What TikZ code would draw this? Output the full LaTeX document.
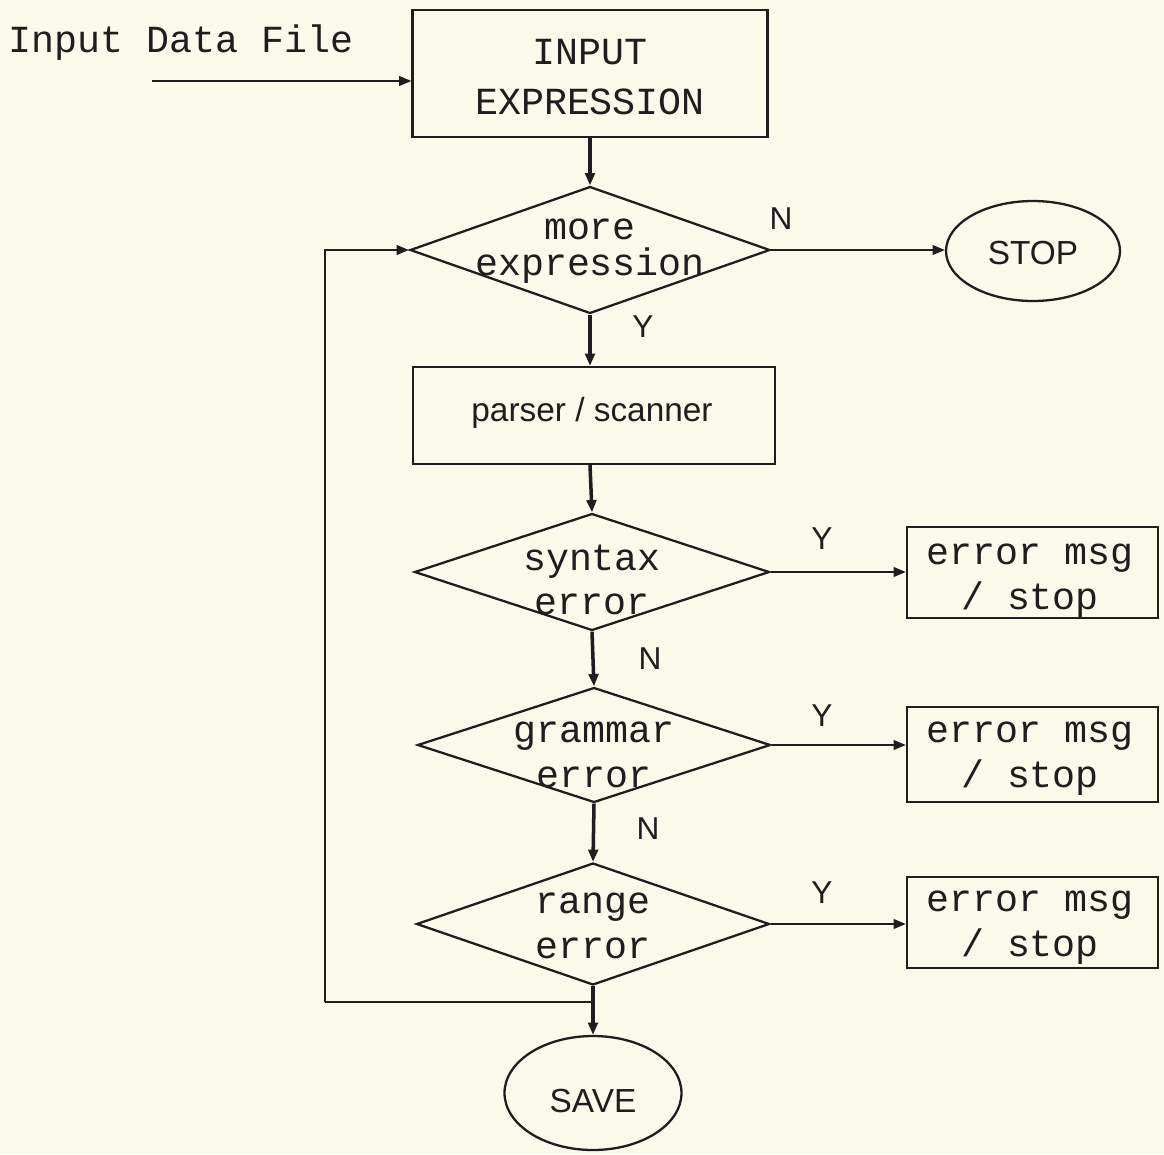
\documentclass[tikz,border=0pt]{standalone}
\usepackage{fontspec}
\setmainfont{Liberation Sans}
\newfontfamily\monof{Liberation Mono}
\usetikzlibrary{shapes.geometric,arrows.meta}
\definecolor{paper}{RGB}{250,249,234}
\definecolor{ink}{RGB}{30,30,30}
\tikzset{
  shp/.style={draw=ink, line width=1.3pt},
  boxnode/.style={shp, rectangle, inner sep=0pt},
  dianode/.style={shp, diamond, inner sep=0pt},
  ovalnode/.style={shp, ellipse, inner sep=0pt},
  mtext/.style={font=\monof\fontsize{21.8}{25.5}\selectfont, align=center, text=ink, inner sep=0pt},
  stext/.style={font=\fontsize{19}{23}\selectfont, align=center, text=ink, inner sep=0pt},
  yn/.style={font=\fontsize{18}{20}\selectfont, text=ink, inner sep=0pt},
  varr/.style={draw=ink, line width=2pt, -{Triangle[length=7pt,width=5.5pt]}},
  harr/.style={draw=ink, line width=1.1pt, -{Triangle[length=7pt,width=5.5pt]}},
  plain/.style={draw=ink, line width=1.3pt}
}
\begin{document}
\begin{tikzpicture}[x=0.02cm,y=-0.02cm]
\fill[paper] (0,0) rectangle (1164,1154);
\useasboundingbox (0,0) rectangle (1164,1154);

% nodes
\node[mtext] (lbl) at (181,43) {Input Data File};
\coordinate (inA) at (152,81);
\node[boxnode, minimum width=7.1cm, minimum height=2.54cm] (ib) at (590,73.5) {};
\node[mtext, font=\monof\fontsize{21.8}{28}\selectfont] (ibt) at (590,77) {INPUT\\EXPRESSION};

\node[dianode, minimum width=7.2cm, minimum height=2.54cm] (d1) at (590,250) {};
\node[mtext, font=\monof\fontsize{21.8}{20.5}\selectfont] (d1t) at (590,251) {more\\expression};

\node[ovalnode, minimum width=3.48cm, minimum height=2.0cm] (stop) at (1033,251) {};
\node[stext] (stopt) at (1033,253) {STOP};

\node[boxnode, minimum width=7.24cm, minimum height=1.94cm] (ps) at (594,415.5) {};
\node[stext] (pst) at (592,413) {parser / scanner};

\node[dianode, minimum width=7.1cm, minimum height=2.34cm] (d2) at (592,572) {};
\node[mtext] (d2t) at (592,580) {syntax\\error};

\node[dianode, minimum width=7.06cm, minimum height=2.3cm] (d3) at (594,745) {};
\node[mtext] (d3t) at (594,755) {grammar\\error};

\node[dianode, minimum width=7.06cm, minimum height=2.44cm] (d4) at (593,924) {};
\node[mtext] (d4t) at (593,926) {range\\error};

\node[boxnode, minimum width=5.02cm, minimum height=1.82cm] (e1) at (1032.5,572.5) {};
\node[mtext] (e1t) at (1030,581) {error msg\\/ stop};
\node[boxnode, minimum width=5.02cm, minimum height=1.9cm] (e2) at (1032.5,754.5) {};
\node[mtext] (e2t) at (1030,759) {error msg\\/ stop};
\node[boxnode, minimum width=5.02cm, minimum height=1.82cm] (e3) at (1032.5,922.5) {};
\node[mtext] (e3t) at (1030,927.5) {error msg\\/ stop};

\node[ovalnode, minimum width=3.54cm, minimum height=2.28cm] (sv) at (593,1093) {};
\node[stext] (svt) at (593,1101) {SAVE};

% labels
\node[yn] (n1) at (781,219) {N};
\node[yn] (y1) at (643,327) {Y};
\node[yn] (y2) at (822,539) {Y};
\node[yn] (n2) at (650,659) {N};
\node[yn] (y3) at (822,716) {Y};
\node[yn] (n3) at (648,829) {N};
\node[yn] (y4) at (822,893) {Y};

% connectors
\draw[harr] (inA) -- (inA -| ib.west);
\draw[varr] (ib.south) -- (d1.north);
\draw[harr] (d1.east) -- (d1.east -| stop.west);
\draw[varr] (d1.south) -- (d1.south |- ps.north);
\draw[varr] (d1.south |- ps.south) -- (d2.north);
\draw[harr] (d2.east) -- (d2.east -| e1.west);
\draw[varr] (d2.south) -- (d3.north);
\draw[harr] (d3.east) -- (d3.east -| e2.west);
\draw[varr] (d3.south) -- (d4.north);
\draw[harr] (d4.east) -- (d4.east -| e3.west);
\draw[varr] (d4.south) -- (sv.north);
\coordinate (jn) at (593,1002);
\coordinate (lp) at (325,1002);
\draw[plain] (jn) -- (lp);
\draw[harr, line width=1.3pt] (lp) |- (d1.west);
\end{tikzpicture}
\end{document}
